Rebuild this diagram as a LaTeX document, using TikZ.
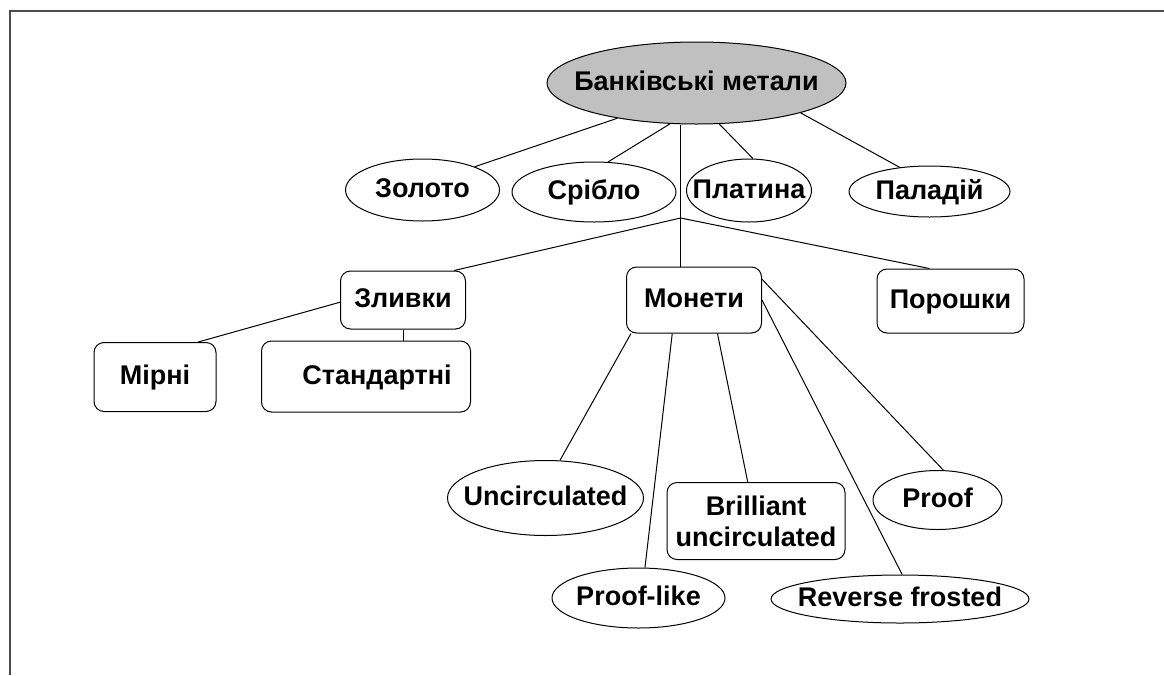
\documentclass[tikz,border=0pt]{standalone}
\usepackage{fontspec}
\setmainfont{Liberation Sans}
\usepackage{xcolor}
\usetikzlibrary{shapes.geometric}
\definecolor{metalgray}{HTML}{C0C0C0}

\begin{document}
\begin{tikzpicture}[x=1pt, y=-1pt, line width=1pt,
    font=\bfseries\fontsize{27}{31}\selectfont,
    oval/.style={draw, ellipse, inner sep=0pt, text height=19pt, text depth=4pt,
        execute at begin node={\hbox to 0pt\bgroup\hss},
        execute at end node={\hss\egroup}},
    box/.style={draw, rectangle, rounded corners=10pt, inner sep=0pt,
        text height=19pt, text depth=4pt}]
    \useasboundingbox (0,0) rectangle (1164,675);

    % Moldura
    \draw[line width=2pt, black!70] (10,675) -- (10,11) -- (1164,11);

    % Nó raiz
    \node[oval, fill=metalgray, minimum width=299pt, minimum height=82pt] (root) at (696.5,83) {Банківські метали};

    % Metais
    \node[oval, minimum width=154pt, minimum height=62pt] (zoloto) at (422.5,190) {Золото};
    \node[oval, minimum width=164pt, minimum height=60pt] (sriblo) at (594,192) {Срібло};
    \node[oval, minimum width=125pt, minimum height=63pt] (platyna) at (749,190.5) {Платина};
    \node[oval, minimum width=161pt, minimum height=51pt] (paladii) at (929.5,191.5) {Паладій};

    % Formas
    \coordinate (branch) at (680.6,218);
    \node[box, minimum width=125pt, minimum height=58pt] (zlyvky) at (403,300) {Зливки};
    \node[box, minimum width=135pt, minimum height=66pt] (monety) at (694,300) {Монети};
    \node[box, minimum width=147pt, minimum height=64pt] (poroshky) at (950.5,301) {Порошки};

    % Lingotes
    \node[box, minimum width=122pt, minimum height=69pt] (mirni) at (155,377) {Мірні};
    \node[box, minimum width=209pt, minimum height=71pt] (standartni) at (366,376.5) {\hspace*{22pt}Стандартні};

    % Moedas
    \node[oval, minimum width=196pt, minimum height=75pt] (uncirc) at (545.5,498) {Uncirculated};
    \node[box, minimum width=178pt, minimum height=77pt, align=center,
        text height={}, text depth={}] (brilliant) at (756,521) {Brilliant\\uncirculated};
    \node[oval, minimum width=129pt, minimum height=59pt] (proof) at (937.5,500) {Proof};
    \node[oval, minimum width=173pt, minimum height=60pt] (prooflike) at (638.5,598) {Proof-like};
    \node[oval, minimum width=258pt, minimum height=48pt] (reverse) at (900,599) {Reverse frosted};

    % Ligações
    \draw (root.204) -- (zoloto.24);
    \draw (root.237) -- (sriblo.65);
    \draw (root.299) -- (platyna.83);
    \draw (root.344) -- (paladii.141);
    \draw (root.south -| branch) -- (branch) -- (branch |- monety.north);
    \draw (branch) -- (zlyvky.30);
    \draw (branch) -- (poroshky.123);
    \draw (zlyvky.182) -- (mirni.39);
    \draw (zlyvky.south) -- (zlyvky.south |- standartni.north);
    \draw (monety.208) -- (uncirc.69);
    \draw (monety.237) -- (prooflike.78);
    \draw (monety.305) -- (brilliant.102);
    \draw (monety.east) -- (reverse.85);
    \draw (monety.17) -- (proof.79);
\end{tikzpicture}
\end{document}
